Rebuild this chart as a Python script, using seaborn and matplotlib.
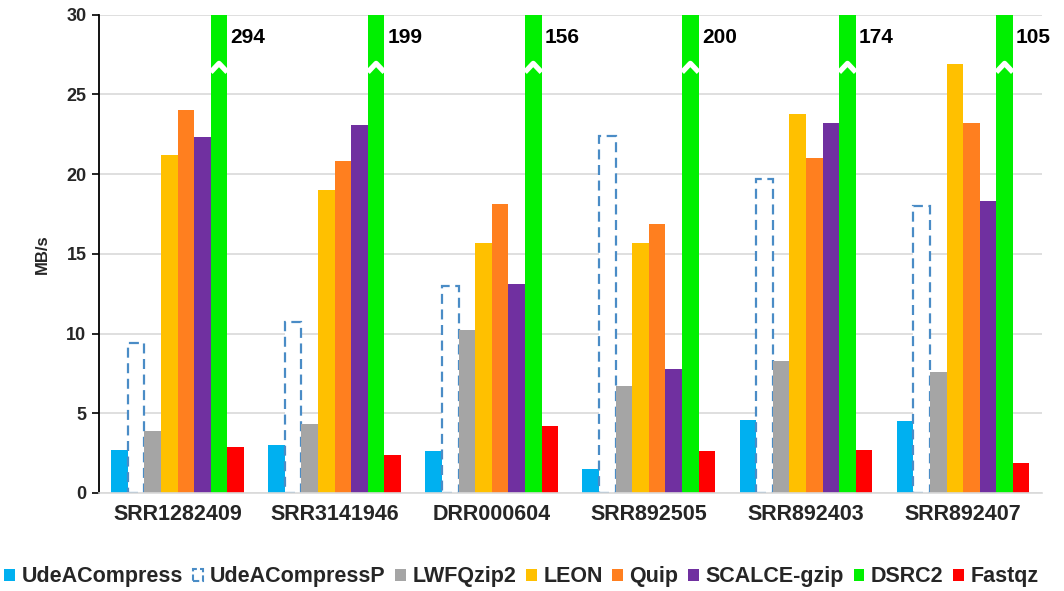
import matplotlib
matplotlib.use("Agg")
import matplotlib.pyplot as plt
import seaborn as sns
import pandas as pd
import numpy as np

# Throughput (MB/s) per dataset and tool
datasets = ["SRR1282409", "SRR3141946", "DRR000604", "SRR892505", "SRR892403", "SRR892407"]
tools = ["UdeACompress", "UdeACompressP", "LWFQzip2", "LEON", "Quip", "SCALCE-gzip", "DSRC2", "Fastqz"]

udeacompress  = [2.7, 3.0, 2.6, 1.5, 4.6, 4.5]
udeacompressp = [9.4, 10.7, 13.0, 22.4, 19.7, 18.0]
lwfqzip2      = [3.9, 4.3, 10.2, 6.7, 8.3, 7.6]
leon          = [21.2, 19.0, 15.7, 15.7, 23.8, 26.9]
quip          = [24.0, 20.8, 18.1, 16.9, 21.0, 23.2]
scalce_gzip   = [22.3, 23.1, 13.1, 7.8, 23.2, 18.3]
dsrc2         = [294, 199, 156, 200, 174, 105]
fastqz        = [2.9, 2.4, 4.2, 2.6, 2.7, 1.9]

colors = ["#00B0F0", "#FFFFFF", "#A5A5A5", "#FFC000", "#FF7F1F", "#7030A0", "#00F000", "#FF0000"]

series = [udeacompress, udeacompressp, lwfqzip2, leon, quip, scalce_gzip, dsrc2, fastqz]
df = pd.DataFrame(
    [(d, t, v) for t, vals in zip(tools, series) for d, v in zip(datasets, vals)],
    columns=["dataset", "tool", "speed"],
)

sns.set_style("white")
plt.rcParams["font.family"] = ["Liberation Sans", "DejaVu Sans"]
plt.rcParams["font.weight"] = "bold"

fig = plt.figure(figsize=(10.64, 5.91), dpi=100)
ax = fig.add_axes([0.093, 0.166, 0.886, 0.809])

sns.barplot(data=df, x="dataset", y="speed", hue="tool", order=datasets,
            hue_order=tools, palette=colors, width=0.845, gap=0,
            saturation=1, errorbar=None, ax=ax, legend=True, linewidth=0)

ymax = 30
ax.set_ylim(0, ymax)
ax.set_xlim(-0.5, len(datasets) - 0.5)
ax.set_yticks(range(0, 31, 5))
ax.yaxis.grid(True, color="#D9D9D9", linewidth=1.2)
ax.set_axisbelow(True)

# Parallel variant drawn as a dashed outline
dash_blue = "#4A8CC6"
for bar in ax.containers[1]:
    bar.set_facecolor("white")
    bar.set_edgecolor(dash_blue)
    bar.set_linewidth(1.6)
    bar.set_linestyle((0, (4.5, 2.5)))

# DSRC2 bars run past the axis: break mark and value label
brk = 26.4
for bar, v in zip(ax.containers[6], dsrc2):
    x0 = bar.get_x()
    w = bar.get_width()
    ax.plot([x0, x0 + w / 2, x0 + w], [brk, brk + 0.55, brk],
            color="white", linewidth=3.8, solid_capstyle="butt", zorder=5,
            clip_on=True)
    ax.text(x0 + w + 0.02, 28.6, f"{v}", ha="left", va="center",
            fontsize=15, fontweight="bold", color="black")

for s in ["top", "right"]:
    ax.spines[s].set_visible(False)
ax.spines["left"].set_color("black")
ax.spines["left"].set_linewidth(1.3)
ax.spines["bottom"].set_color("#D9D9D9")
ax.spines["bottom"].set_linewidth(1.2)

ax.tick_params(axis="y", which="major", left=True, length=5, width=1.2,
               color="black", labelsize=13, pad=4)
ax.tick_params(axis="x", length=0, labelsize=15.5, pad=8)
for lbl in ax.get_xticklabels() + ax.get_yticklabels():
    lbl.set_fontweight("bold")

ax.set_xlabel("")
ax.set_ylabel("MB/s", fontsize=12, fontweight="bold", labelpad=12)

handles, labels = ax.get_legend_handles_labels()
ax.get_legend().remove()
leg = fig.legend(handles, labels, loc="center", bbox_to_anchor=(0.49, 0.024),
                 ncol=len(tools), frameon=False, fontsize=15.5,
                 handlelength=0.5, handleheight=0.5, handletextpad=0.3,
                 columnspacing=0.45, borderpad=0)
for h in leg.legend_handles:
    h.set_linewidth(0)
lh = leg.legend_handles[1]
lh.set_facecolor("white")
lh.set_edgecolor(dash_blue)
lh.set_linewidth(1.5)
lh.set_linestyle((0, (3, 1.5)))
for t in leg.get_texts():
    t.set_fontweight("bold")

fig.savefig("out.png", dpi=100)
